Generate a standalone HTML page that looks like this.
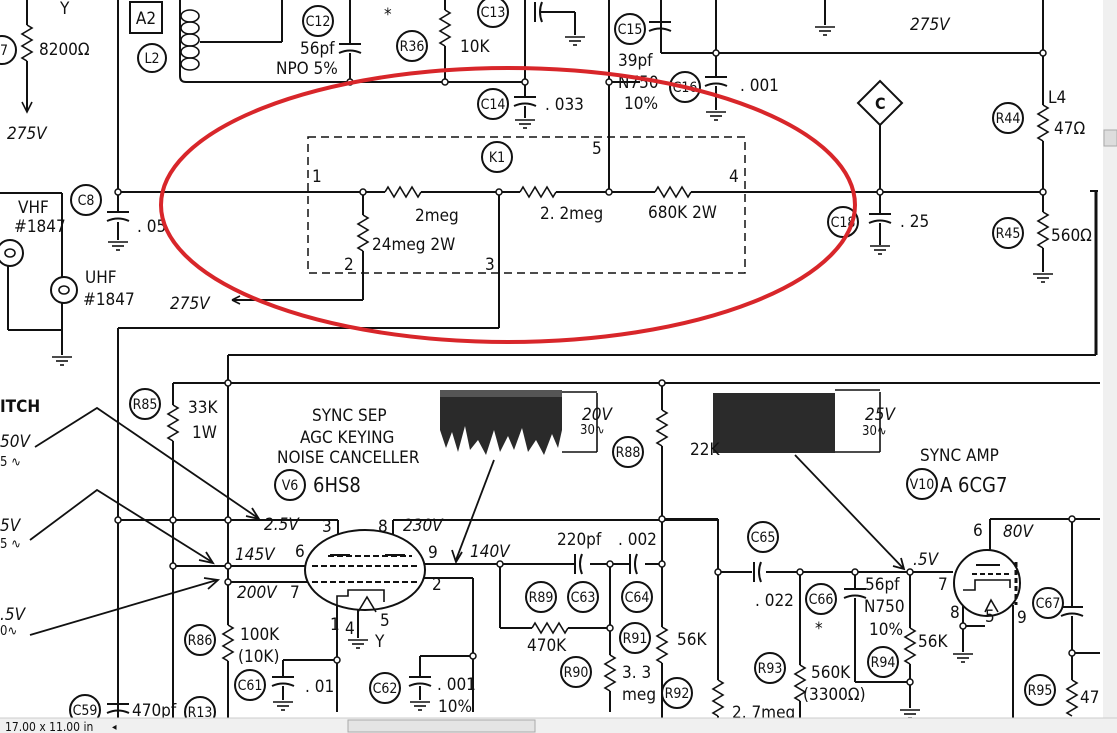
<!DOCTYPE html>
<html><head><meta charset="utf-8"><style>
html,body{margin:0;padding:0;background:#fff;width:1117px;height:733px;overflow:hidden}
svg{display:block}
text{font-family:"DejaVu Sans Condensed","Liberation Sans Narrow","Liberation Sans",sans-serif;fill:#111}
.l{stroke:#111;stroke-width:2;fill:none}
.t{stroke:#111;stroke-width:1.6;fill:none}
.c{stroke:#111;stroke-width:2;fill:#fff}
</style></head><body>
<svg width="1117" height="733" viewBox="0 0 1117 733" xmlns="http://www.w3.org/2000/svg">
<defs>
<polyline id="rv" class="t" points="0,0 5,3 -5,9 5,15 -5,21 5,27 -5,33 0,36"/>
<polyline id="rh" class="t" points="0,0 3,-5 9,5 15,-5 21,5 27,-5 33,5 36,0"/>
<g id="gnd" class="t"><line x1="-10" y1="0" x2="10" y2="0"/><line x1="-6" y1="4" x2="6" y2="4"/><line x1="-2" y1="8" x2="2" y2="8"/></g>
<g id="capv" class="l"><line x1="-11" y1="0" x2="11" y2="0"/><path d="M-11,9 Q0,4 11,9"/></g>
<g id="caph" class="l"><line x1="0" y1="-10" x2="0" y2="10"/><path d="M7,-10 Q3,0 7,10"/></g>
</defs>

<!-- ===== TOP SECTION ===== -->
<g class="l">
<line x1="27" y1="0" x2="27" y2="25"/><line x1="27" y1="61" x2="27" y2="110"/>
<line x1="118" y1="0" x2="118" y2="212"/><line x1="118" y1="222" x2="118" y2="240"/>
<line x1="118" y1="328" x2="118" y2="718"/>
<line x1="0" y1="193" x2="62" y2="193"/><line x1="62" y1="193" x2="62" y2="278"/>
<line x1="62" y1="302" x2="62" y2="355"/><line x1="8" y1="330" x2="62" y2="330"/>
<line x1="8" y1="265" x2="8" y2="330"/>
<path d="M180,0 L180,76 Q180,82 186,82 L525,82"/>
<line x1="200" y1="42" x2="282" y2="42"/><line x1="282" y1="42" x2="282" y2="0"/>
<line x1="350" y1="0" x2="350" y2="43"/><line x1="350" y1="53" x2="350" y2="82"/>
<line x1="445" y1="0" x2="445" y2="10"/><line x1="445" y1="46" x2="445" y2="82"/>
<line x1="525" y1="0" x2="525" y2="96"/><line x1="525" y1="106" x2="525" y2="118"/>
<line x1="540" y1="12" x2="575" y2="12"/><line x1="575" y1="12" x2="575" y2="35"/>
<line x1="118" y1="192" x2="385" y2="192"/><line x1="421" y1="192" x2="520" y2="192"/>
<line x1="556" y1="192" x2="655" y2="192"/><line x1="691" y1="192" x2="1043" y2="192"/>
<line x1="609" y1="0" x2="609" y2="192"/><line x1="609" y1="82" x2="640" y2="82"/>
<line x1="661" y1="0" x2="661" y2="53"/><line x1="661" y1="53" x2="1043" y2="53"/>
<line x1="716" y1="0" x2="716" y2="76"/><line x1="716" y1="86" x2="716" y2="110"/>
<line x1="825" y1="0" x2="825" y2="25"/>
<line x1="363" y1="192" x2="363" y2="215"/><line x1="363" y1="251" x2="363" y2="300"/>
<line x1="363" y1="300" x2="232" y2="300"/>
<line x1="499" y1="192" x2="499" y2="328"/><line x1="499" y1="328" x2="118" y2="328"/>
<line x1="880" y1="125" x2="880" y2="213"/><line x1="880" y1="223" x2="880" y2="245"/>
<line x1="1043" y1="0" x2="1043" y2="105"/><line x1="1043" y1="141" x2="1043" y2="212"/>
<line x1="1043" y1="248" x2="1043" y2="272"/>
</g>
<line x1="1096" y1="190" x2="1096" y2="355" stroke="#111" stroke-width="3"/>
<line x1="1090" y1="191" x2="1098" y2="191" stroke="#111" stroke-width="2"/>
<line x1="228" y1="355" x2="1096" y2="355" stroke="#111" stroke-width="2"/>

<use href="#rv" x="27" y="25"/>
<use href="#rv" x="445" y="10"/>
<use href="#rh" x="385" y="192"/>
<use href="#rh" x="520" y="192"/>
<use href="#rh" x="655" y="192"/>
<use href="#rv" x="363" y="215"/>
<use href="#rv" x="1043" y="105"/>
<use href="#rv" x="1043" y="212"/>
<use href="#capv" x="118" y="212"/>
<use href="#gnd" x="118" y="242"/>
<use href="#capv" x="350" y="44"/>
<use href="#capv" x="525" y="97"/><use href="#gnd" x="525" y="120"/>
<use href="#capv" x="716" y="77"/><use href="#gnd" x="716" y="112"/>
<use href="#capv" x="880" y="214"/><use href="#gnd" x="880" y="246"/>
<use href="#gnd" x="1043" y="274"/>
<use href="#gnd" x="825" y="27"/>
<use href="#gnd" x="575" y="37"/>
<use href="#gnd" x="62" y="357"/>
<path d="M27,100 L27,112 M22,102 L27,112 L32,102" class="t"/>
<path d="M232,300 l8,-4 m-8,4 l8,4" class="t"/>
<use href="#caph" x="535" y="12"/>
<use href="#capv" x="660" y="22"/>

<g class="t"><ellipse cx="190" cy="16" rx="9" ry="6"/><ellipse cx="190" cy="28" rx="9" ry="6"/><ellipse cx="190" cy="40" rx="9" ry="6"/><ellipse cx="190" cy="52" rx="9" ry="6"/><ellipse cx="190" cy="64" rx="9" ry="6"/></g>
<rect x="130" y="2" width="32" height="31" class="l"/>
<rect x="308" y="137" width="437" height="136" fill="none" stroke="#111" stroke-width="1.5" stroke-dasharray="8,5"/>
<circle cx="10" cy="253" r="13" class="c"/><circle cx="64" cy="290" r="13" class="c"/>
<ellipse cx="10" cy="253" rx="5" ry="4" class="t"/><ellipse cx="64" cy="290" rx="5" ry="4" class="t"/>
<polygon points="880,81 902,103 880,125 858,103" class="c"/>
<g fill="#fff" stroke="#111" stroke-width="1.5">
<circle cx="118" cy="192" r="3"/><circle cx="363" cy="192" r="3"/><circle cx="499" cy="192" r="3"/>
<circle cx="609" cy="192" r="3"/><circle cx="609" cy="82" r="3"/><circle cx="716" cy="53" r="3"/>
<circle cx="880" cy="192" r="3"/><circle cx="1043" cy="192" r="3"/><circle cx="1043" cy="53" r="3"/>
<circle cx="445" cy="82" r="3"/><circle cx="525" cy="82" r="3"/><circle cx="350" cy="82" r="3"/>
</g>
<g font-size="14" text-anchor="middle">
<circle cx="152" cy="58" r="14" class="c"/><text x="152" y="63">L2</text>
<circle cx="318" cy="21" r="15" class="c"/><text x="318" y="26">C12</text>
<circle cx="412" cy="46" r="15" class="c"/><text x="412" y="51">R36</text>
<circle cx="493" cy="12" r="15" class="c"/><text x="493" y="17">C13</text>
<circle cx="493" cy="104" r="15" class="c"/><text x="493" y="109">C14</text>
<circle cx="630" cy="29" r="15" class="c"/><text x="630" y="34">C15</text>
<circle cx="685" cy="87" r="15" class="c"/><text x="685" y="92">C16</text>
<circle cx="86" cy="200" r="15" class="c"/><text x="86" y="205">C8</text>
<circle cx="497" cy="157" r="15" class="c"/><text x="497" y="162">K1</text>
<circle cx="843" cy="222" r="15" class="c"/><text x="843" y="227">C18</text>
<circle cx="1008" cy="118" r="15" class="c"/><text x="1008" y="123">R44</text>
<circle cx="1008" cy="233" r="15" class="c"/><text x="1008" y="238">R45</text>
<circle cx="2" cy="50" r="14" class="c"/><text x="4" y="55">7</text>
</g>
<g font-size="17">
<text x="146" y="24" text-anchor="middle">A2</text>
<text x="60" y="14">Y</text>
<text x="39" y="55">8200Ω</text>
<text x="7" y="139" font-style="italic">275V</text>
<text x="300" y="54">56pf</text>
<text x="276" y="74">NPO 5%</text>
<text x="384" y="20">*</text>
<text x="460" y="52">10K</text>
<text x="545" y="110">. 033</text>
<text x="618" y="66">39pf</text>
<text x="618" y="88">N750</text>
<text x="624" y="109">10%</text>
<text x="740" y="91">. 001</text>
<text x="910" y="30" font-style="italic">275V</text>
<text x="875" y="109" font-size="16" font-weight="bold">C</text>
<text x="1048" y="103">L4</text>
<text x="1054" y="134">47Ω</text>
<text x="1051" y="241">560Ω</text>
<text x="900" y="227">. 25</text>
<text x="137" y="232">. 05</text>
<text x="18" y="213">VHF</text>
<text x="14" y="232">#1847</text>
<text x="85" y="283">UHF</text>
<text x="83" y="305">#1847</text>
<text x="312" y="182">1</text>
<text x="592" y="154">5</text>
<text x="729" y="182">4</text>
<text x="344" y="270">2</text>
<text x="485" y="270">3</text>
<text x="415" y="221">2meg</text>
<text x="540" y="219">2. 2meg</text>
<text x="648" y="218">680K  2W</text>
<text x="372" y="250">24meg  2W</text>
<text x="170" y="309" font-style="italic">275V</text>
</g>

<!-- ===== BOTTOM SECTION ===== -->
<g class="l">
<line x1="173" y1="383" x2="1100" y2="383"/>
<line x1="228" y1="355" x2="228" y2="625"/><line x1="228" y1="661" x2="228" y2="718"/>
<line x1="173" y1="383" x2="173" y2="405"/><line x1="173" y1="441" x2="173" y2="718"/>
<line x1="118" y1="520" x2="338" y2="520"/><line x1="338" y1="520" x2="338" y2="555"/>
<line x1="173" y1="566" x2="307" y2="566"/><line x1="228" y1="582" x2="310" y2="582"/>
<line x1="393" y1="555" x2="393" y2="520"/><line x1="393" y1="520" x2="718" y2="520"/>
<line x1="424" y1="564" x2="575" y2="564"/><line x1="590" y1="564" x2="630" y2="564"/><line x1="645" y1="564" x2="662" y2="564"/>
<line x1="424" y1="578" x2="473" y2="578"/><line x1="473" y1="578" x2="473" y2="712"/>
<line x1="337" y1="605" x2="337" y2="712"/><line x1="337" y1="660" x2="283" y2="660"/><line x1="283" y1="660" x2="283" y2="676"/><line x1="283" y1="686" x2="283" y2="700"/>
<line x1="473" y1="656" x2="420" y2="656"/><line x1="420" y1="656" x2="420" y2="676"/><line x1="420" y1="686" x2="420" y2="700"/>
<line x1="358" y1="605" x2="358" y2="638"/>
<line x1="500" y1="564" x2="500" y2="628"/><line x1="500" y1="628" x2="532" y2="628"/><line x1="568" y1="628" x2="610" y2="628"/>
<line x1="610" y1="564" x2="610" y2="655"/><line x1="610" y1="691" x2="610" y2="712"/>
<line x1="662" y1="383" x2="662" y2="410"/><line x1="662" y1="446" x2="662" y2="627"/><line x1="662" y1="663" x2="662" y2="718"/>
<line x1="662" y1="519" x2="718" y2="519"/>
<line x1="718" y1="519" x2="718" y2="680"/><line x1="718" y1="716" x2="718" y2="718"/>
<line x1="718" y1="572" x2="752" y2="572"/><line x1="766" y1="572" x2="953" y2="572"/>
<line x1="800" y1="572" x2="800" y2="665"/><line x1="800" y1="701" x2="800" y2="718"/>
<line x1="855" y1="572" x2="855" y2="588"/><line x1="855" y1="598" x2="855" y2="682"/><line x1="855" y1="682" x2="910" y2="682"/>
<line x1="910" y1="572" x2="910" y2="628"/><line x1="910" y1="664" x2="910" y2="708"/>
<line x1="990" y1="550" x2="990" y2="519"/><line x1="990" y1="519" x2="1100" y2="519"/>
<line x1="963" y1="590" x2="963" y2="652"/><line x1="963" y1="626" x2="985" y2="626"/>
<line x1="1013" y1="605" x2="1013" y2="718"/>
<line x1="1072" y1="519" x2="1072" y2="606"/><line x1="1072" y1="616" x2="1072" y2="680"/><line x1="1072" y1="653" x2="1100" y2="653"/>
</g>
<use href="#rv" x="173" y="405"/>
<use href="#rv" x="228" y="625"/>
<use href="#rv" x="610" y="655"/>
<use href="#rv" x="662" y="410"/>
<use href="#rv" x="662" y="627"/>
<use href="#rv" x="718" y="680"/>
<use href="#rv" x="800" y="665"/>
<use href="#rv" x="910" y="628"/>
<use href="#rv" x="1072" y="680"/>
<use href="#rh" x="532" y="628"/>
<use href="#caph" x="575" y="564"/><use href="#caph" x="630" y="564"/>
<use href="#caph" x="754" y="572"/>
<use href="#capv" x="855" y="589"/>
<use href="#capv" x="283" y="677"/><use href="#gnd" x="283" y="702"/>
<use href="#capv" x="420" y="677"/><use href="#gnd" x="420" y="702"/>
<use href="#capv" x="1072" y="607"/>
<use href="#capv" x="118" y="704"/>
<use href="#gnd" x="358" y="640"/>
<use href="#gnd" x="910" y="710"/>
<use href="#gnd" x="963" y="654"/>

<ellipse cx="365" cy="570" rx="60" ry="40" class="c"/>
<g stroke="#111" stroke-width="2" stroke-dasharray="6,3">
<line x1="312" y1="566" x2="420" y2="566"/><line x1="312" y1="582" x2="420" y2="582"/><line x1="328" y1="556" x2="412" y2="556"/>
</g>
<line x1="330" y1="555" x2="350" y2="555" stroke="#111" stroke-width="2"/>
<line x1="385" y1="555" x2="405" y2="555" stroke="#111" stroke-width="2"/>
<path d="M337,612 L337,596 L348,596 L348,590 L384,590 L384,602" class="t"/>
<path d="M358,612 L367,597 L376,612" class="t"/>
<circle cx="987" cy="583" r="33" class="c"/>
<line x1="976" y1="565" x2="1000" y2="565" stroke="#111" stroke-width="2"/>
<line x1="972" y1="574" x2="1010" y2="574" stroke="#111" stroke-width="2" stroke-dasharray="5,3"/>
<path d="M963,590 L975,590 L975,580 L1010,580 L1010,588" class="t"/>
<path d="M985,612 L991,600 L998,612" class="t"/>
<line x1="1016" y1="562" x2="1016" y2="605" stroke="#111" stroke-width="3" stroke-dasharray="5,3"/>

<rect x="440" y="390" width="122" height="65" fill="#2a2a2a"/>
<polygon fill="#fff" points="440,455 440,430 446,448 452,432 458,452 465,426 470,450 478,440 486,455 494,430 500,452 508,436 514,450 522,428 528,452 536,440 544,455 552,434 558,448 562,430 562,455"/>
<rect x="440" y="390" width="122" height="7" fill="#555"/>
<path d="M562,392 L597,392 M562,452 L597,452 M597,393 L597,452" class="t"/>
<rect x="713" y="393" width="122" height="60" fill="#2b2b2b"/>
<path d="M835,390 L880,390 M835,452 L880,452 M880,392 L880,452" class="t"/>
<g stroke="#111" stroke-width="1.8" fill="none">
<line x1="494" y1="460" x2="456" y2="560"/><path d="M452,550 L456,562 L462,552"/>
<line x1="795" y1="455" x2="903" y2="568"/><path d="M893,566 L904,569 L901,558"/>
<polyline points="35,447 97,408 258,518"/><path d="M246,516 L259,519 L252,508"/>
<polyline points="30,540 97,490 212,562"/><path d="M199,560 L213,563 L206,552"/>
<line x1="30" y1="635" x2="217" y2="580"/><path d="M204,578 L218,580 L208,589"/>
</g>
<g fill="#fff" stroke="#111" stroke-width="1.5">
<circle cx="228" cy="383" r="3"/><circle cx="118" cy="520" r="3"/><circle cx="173" cy="520" r="3"/><circle cx="228" cy="520" r="3"/>
<circle cx="173" cy="566" r="3"/><circle cx="228" cy="566" r="3"/><circle cx="228" cy="582" r="3"/>
<circle cx="500" cy="564" r="3"/><circle cx="610" cy="564" r="3"/><circle cx="662" cy="564" r="3"/><circle cx="662" cy="519" r="3"/><circle cx="662" cy="383" r="3"/>
<circle cx="610" cy="628" r="3"/><circle cx="337" cy="660" r="3"/><circle cx="473" cy="656" r="3"/>
<circle cx="718" cy="572" r="3"/><circle cx="800" cy="572" r="3"/><circle cx="855" cy="572" r="3"/><circle cx="910" cy="572" r="3"/><circle cx="910" cy="682" r="3"/>
<circle cx="963" cy="626" r="3"/><circle cx="1072" cy="519" r="3"/><circle cx="1072" cy="653" r="3"/>
</g>
<g font-size="14" text-anchor="middle">
<circle cx="145" cy="404" r="15" class="c"/><text x="145" y="409">R85</text>
<circle cx="290" cy="485" r="15" class="c"/><text x="290" y="490">V6</text>
<circle cx="628" cy="452" r="15" class="c"/><text x="628" y="457">R88</text>
<circle cx="922" cy="484" r="15" class="c"/><text x="922" y="489">V10</text>
<circle cx="200" cy="640" r="15" class="c"/><text x="200" y="645">R86</text>
<circle cx="250" cy="685" r="15" class="c"/><text x="250" y="690">C61</text>
<circle cx="385" cy="688" r="15" class="c"/><text x="385" y="693">C62</text>
<circle cx="85" cy="710" r="15" class="c"/><text x="85" y="715">C59</text>
<circle cx="200" cy="712" r="15" class="c"/><text x="200" y="717">R13</text>
<circle cx="541" cy="597" r="15" class="c"/><text x="541" y="602">R89</text>
<circle cx="583" cy="597" r="15" class="c"/><text x="583" y="602">C63</text>
<circle cx="637" cy="597" r="15" class="c"/><text x="637" y="602">C64</text>
<circle cx="576" cy="672" r="15" class="c"/><text x="576" y="677">R90</text>
<circle cx="635" cy="638" r="15" class="c"/><text x="635" y="643">R91</text>
<circle cx="677" cy="693" r="15" class="c"/><text x="677" y="698">R92</text>
<circle cx="763" cy="537" r="15" class="c"/><text x="763" y="542">C65</text>
<circle cx="821" cy="599" r="15" class="c"/><text x="821" y="604">C66</text>
<circle cx="770" cy="668" r="15" class="c"/><text x="770" y="673">R93</text>
<circle cx="883" cy="662" r="15" class="c"/><text x="883" y="667">R94</text>
<circle cx="1048" cy="603" r="15" class="c"/><text x="1048" y="608">C67</text>
<circle cx="1040" cy="690" r="15" class="c"/><text x="1040" y="695">R95</text>
</g>
<g font-size="17">
<text x="0" y="412" font-weight="bold">ITCH</text>
<text x="0" y="447" font-style="italic">50V</text><text x="0" y="466" font-size="13">5 ∿</text>
<text x="0" y="531" font-style="italic">5V</text><text x="0" y="548" font-size="13">5 ∿</text>
<text x="0" y="620" font-style="italic">.5V</text><text x="0" y="635" font-size="13">0∿</text>
<text x="188" y="413">33K</text><text x="192" y="438">1W</text>
<text x="312" y="421">SYNC SEP</text>
<text x="300" y="443">AGC KEYING</text>
<text x="277" y="463">NOISE CANCELLER</text>
<text x="313" y="492" font-size="20">6HS8</text>
<text x="582" y="420" font-style="italic">20V</text><text x="580" y="434" font-size="13">30∿</text>
<text x="690" y="455">22K</text>
<text x="865" y="420" font-style="italic">25V</text><text x="862" y="435" font-size="13">30∿</text>
<text x="920" y="461">SYNC AMP</text>
<text x="940" y="492" font-size="20">A  6CG7</text>
<text x="264" y="530" font-style="italic">2.5V</text><text x="322" y="532">3</text>
<text x="378" y="532">8</text><text x="403" y="531" font-style="italic">230V</text>
<text x="235" y="560" font-style="italic">145V</text><text x="295" y="557">6</text>
<text x="428" y="558">9</text><text x="470" y="557" font-style="italic">140V</text>
<text x="432" y="590">2</text>
<text x="237" y="598" font-style="italic">200V</text><text x="290" y="598">7</text>
<text x="330" y="630">1</text><text x="345" y="634">4</text><text x="380" y="626">5</text><text x="375" y="647">Y</text>
<text x="240" y="640">100K</text><text x="238" y="662">(10K)</text>
<text x="305" y="692">. 01</text>
<text x="437" y="690">. 001</text><text x="438" y="712">10%</text>
<text x="132" y="716">470pf</text>
<text x="557" y="545">220pf</text><text x="618" y="545">. 002</text>
<text x="527" y="651">470K</text>
<text x="622" y="678">3. 3</text><text x="622" y="700">meg</text>
<text x="677" y="645">56K</text>
<text x="732" y="718">2. 7meg</text>
<text x="755" y="606">. 022</text>
<text x="815" y="634">*</text>
<text x="865" y="590">56pf</text><text x="864" y="612">N750</text><text x="869" y="635">10%</text>
<text x="918" y="647">56K</text>
<text x="811" y="678">560K</text><text x="803" y="700">(3300Ω)</text>
<text x="913" y="565" font-style="italic">.5V</text><text x="938" y="590">7</text>
<text x="973" y="536">6</text><text x="1003" y="537" font-style="italic">80V</text>
<text x="950" y="618">8</text><text x="985" y="622">5</text><text x="1017" y="623">9</text>
<text x="1080" y="703">47</text>
</g>

<ellipse cx="508" cy="205" rx="347" ry="137" fill="none" stroke="#d8262a" stroke-width="4"/>

<rect x="1103" y="0" width="14" height="718" fill="#f0f0f0"/>
<rect x="1104" y="130" width="13" height="16" fill="#ddd" stroke="#aaa"/>
<rect x="0" y="718" width="1117" height="15" fill="#f0f0f0"/>
<line x1="0" y1="718" x2="1117" y2="718" stroke="#ccc"/>
<text x="5" y="731" font-size="12" font-family="Liberation Sans,sans-serif">17.00 x 11.00 in</text>
<text x="112" y="730" font-size="10" fill="#666">◂</text>
<rect x="348" y="720" width="187" height="12" fill="#e4e4e4" stroke="#aaa"/>
</svg>
</body></html>
